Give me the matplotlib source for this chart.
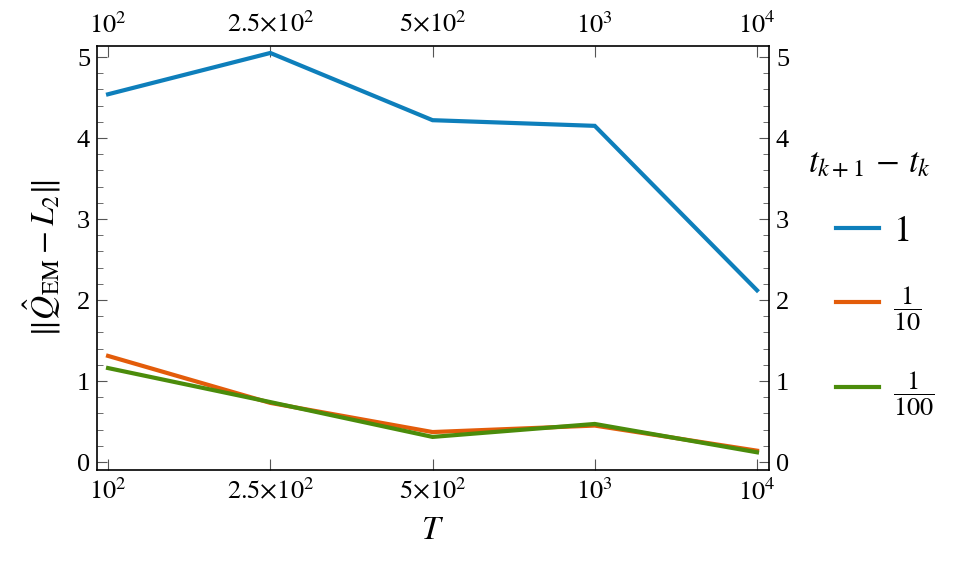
import matplotlib
matplotlib.use("Agg")
import matplotlib.pyplot as plt
import matplotlib.ticker as ticker

plt.rcParams['font.family'] = ['Liberation Serif', 'DejaVu Serif']
plt.rcParams['mathtext.fontset'] = 'stix'

# data
T_labels = [r'$10^2$', r'$2.5{\times}10^2$', r'$5{\times}10^2$', r'$10^3$', r'$10^4$']
err_dt1 = [4.54, 5.05, 4.22, 4.15, 2.12]
err_dt10 = [1.31, 0.73, 0.37, 0.45, 0.14]
err_dt100 = [1.16, 0.74, 0.31, 0.47, 0.12]
step_labels = [r'$1$', r'$\dfrac{1}{10}$', r'$\dfrac{1}{100}$']
colors = ['#0e7fbb', '#e35c0a', '#4b8c0b']

x = list(range(len(T_labels)))

fig = plt.figure(figsize=(9.56, 5.67), dpi=100)
ax = fig.add_axes([0.1015, 0.171, 0.7029, 0.7479])

for ys, lab, c in zip([err_dt1, err_dt10, err_dt100], step_labels, colors):
    ax.plot(x, ys, color=c, lw=3, label=lab, solid_joinstyle='miter')

ax.set_xlim(-0.068, 4.074)
ax.set_ylim(-0.099, 5.136)

ax.set_xticks(x)
ax.set_xticklabels(T_labels)
ax.yaxis.set_major_locator(ticker.MultipleLocator(1))
ax.yaxis.set_minor_locator(ticker.MultipleLocator(0.2))

ax.tick_params(axis='both', which='both', direction='in', top=True, right=True,
               labeltop=True, labelright=True, labelsize=19, color='#555555')
ax.tick_params(axis='x', which='major', length=8, pad=6)
ax.tick_params(axis='y', which='major', length=7, pad=5)
ax.tick_params(axis='y', which='minor', length=4)
for s in ax.spines.values():
    s.set_linewidth(1.2)

ax.set_xlabel(r'$T$', fontsize=24, labelpad=8)
ax.set_ylabel(r'$\|\hat{Q}_{\mathrm{EM}} - L_2\|$', fontsize=24, labelpad=10)

# legend title as its own text so it can sit left of the handles
fig.text(0.845, 0.709, r'$t_{k+1}\,-\,t_k$', fontsize=25, va='center', ha='left')
leg = fig.legend(loc='upper left', bbox_to_anchor=(0.859, 0.645),
                 fontsize=26, frameon=False, handlelength=1.2,
                 handletextpad=0.4, labelspacing=1.0, borderaxespad=0)
for t in leg.get_texts()[1:]:
    t.set_fontsize(19)

fig.savefig('out.png', dpi=100)
